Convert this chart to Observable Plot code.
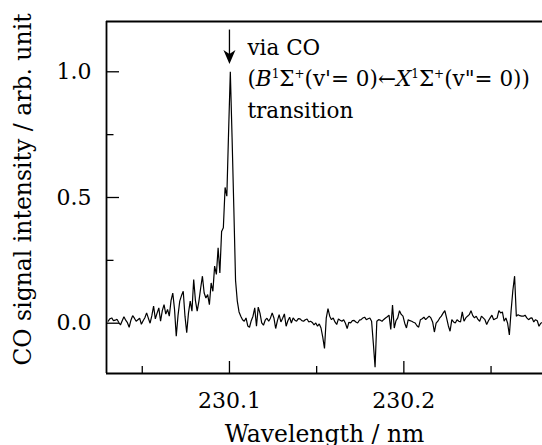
<!DOCTYPE html>
<html><head><meta charset="utf-8">
<script src="https://cdn.jsdelivr.net/npm/d3@7"></script>
<script src="https://cdn.jsdelivr.net/npm/@observablehq/plot@0.6"></script>
<style>
html,body{margin:0;padding:0;background:#fff;overflow:hidden}
#chart svg{font-family:"DejaVu Serif",serif;font-size:22px;background:#fff;color:#000}
</style>
</head><body><div id="chart"></div>
<script>
const wavelength = [
230.0305,230.0315,230.0325,230.0335,230.0345,230.0355,230.0365,230.0375,230.0385,230.0395,
230.0405,230.0415,230.0425,230.0435,230.0445,230.0455,230.0465,230.0475,230.0485,230.0495,
230.0505,230.0515,230.0525,230.0535,230.0545,230.0555,230.0565,230.0575,230.0585,230.0595,
230.0605,230.0615,230.0625,230.0635,230.0645,230.0655,230.0665,230.0675,230.0685,230.0695,
230.0705,230.0715,230.0725,230.0735,230.0745,230.0755,230.0765,230.0775,230.0785,230.0795,
230.0805,230.0815,230.0825,230.0835,230.0845,230.0855,230.0865,230.0875,230.0885,230.0895,
230.0905,230.0915,230.0925,230.0935,230.0945,230.0955,230.0965,230.0975,230.0985,230.0995,
230.1005,230.1015,230.1025,230.1035,230.1045,230.1055,230.1065,230.1075,230.1085,230.1095,
230.1105,230.1115,230.1125,230.1135,230.1145,230.1155,230.1165,230.1175,230.1185,230.1195,
230.1205,230.1215,230.1225,230.1235,230.1245,230.1255,230.1265,230.1275,230.1285,230.1295,
230.1305,230.1315,230.1325,230.1335,230.1345,230.1355,230.1365,230.1375,230.1385,230.1395,
230.1405,230.1415,230.1425,230.1435,230.1445,230.1455,230.1465,230.1475,230.1485,230.1495,
230.1505,230.1515,230.1525,230.1535,230.1545,230.1555,230.1565,230.1575,230.1585,230.1595,
230.1605,230.1615,230.1625,230.1635,230.1645,230.1655,230.1665,230.1675,230.1685,230.1695,
230.1705,230.1715,230.1725,230.1735,230.1745,230.1755,230.1765,230.1775,230.1785,230.1795,
230.1805,230.1815,230.1825,230.1835,230.1845,230.1855,230.1865,230.1875,230.1885,230.1895,
230.1905,230.1915,230.1925,230.1935,230.1945,230.1955,230.1965,230.1975,230.1985,230.1995,
230.2005,230.2015,230.2025,230.2035,230.2045,230.2055,230.2065,230.2075,230.2085,230.2095,
230.2105,230.2115,230.2125,230.2135,230.2145,230.2155,230.2165,230.2175,230.2185,230.2195,
230.2205,230.2215,230.2225,230.2235,230.2245,230.2255,230.2265,230.2275,230.2285,230.2295,
230.2305,230.2315,230.2325,230.2335,230.2345,230.2355,230.2365,230.2375,230.2385,230.2395,
230.2405,230.2415,230.2425,230.2435,230.2445,230.2455,230.2465,230.2475,230.2485,230.2495,
230.2505,230.2515,230.2525,230.2535,230.2545,230.2555,230.2565,230.2575,230.2585,230.2595,
230.2605,230.2615,230.2625,230.2635,230.2645,230.2655,230.2665,230.2675,230.2685,230.2695,
230.2705,230.2715,230.2725,230.2735,230.2745,230.2755,230.2765,230.2775,230.2785,230.2795
];
const intensity = [
0.008,0.018,0.021,0.010,0.012,0.016,0.004,-0.007,0.010,0.026,
0.012,0.002,-0.016,0.012,0.030,0.020,0.008,0.014,0.020,-0.004,
0.010,0.022,0.041,0.020,0.000,0.030,0.068,0.017,0.040,0.061,
0.008,0.050,0.074,0.036,0.055,0.028,0.090,0.120,0.056,-0.052,
0.030,0.088,0.110,0.127,0.028,-0.038,0.040,0.088,0.048,0.174,
0.090,0.048,0.088,0.140,0.187,0.120,0.100,0.114,0.074,0.160,
0.127,0.227,0.194,0.300,0.200,0.365,0.380,0.540,0.505,0.760,
1.000,0.740,0.460,0.170,0.088,0.045,0.028,0.014,0.008,0.021,
-0.011,-0.016,0.010,0.028,0.061,-0.012,0.064,0.040,0.001,-0.008,
0.012,0.020,0.008,0.020,0.041,0.021,-0.021,0.010,0.034,0.005,
0.020,0.037,-0.012,0.010,0.024,0.001,0.021,0.012,0.008,0.018,
0.017,0.010,0.008,0.014,0.017,0.005,0.008,0.003,-0.007,0.001,
-0.012,-0.003,-0.019,-0.055,-0.100,0.020,0.058,0.028,0.014,0.021,
0.005,-0.005,0.017,0.012,0.008,0.014,0.000,-0.021,0.004,0.001,
0.010,0.011,0.005,0.001,0.012,0.014,0.021,0.024,0.014,0.018,
0.021,0.008,-0.080,-0.175,0.008,0.014,0.012,0.008,0.015,0.021,
0.026,0.032,-0.025,0.072,-0.019,0.010,0.021,0.050,0.035,0.028,
0.000,-0.019,0.014,0.010,0.008,0.004,0.001,-0.010,-0.016,0.014,
0.018,0.024,0.014,0.021,0.028,0.021,0.005,-0.035,0.000,0.008,
0.020,0.028,0.040,0.050,0.021,-0.010,-0.032,0.014,0.005,0.001,
0.014,0.008,0.005,0.045,0.008,0.021,0.028,0.034,0.050,0.030,
0.021,0.028,0.015,0.008,0.028,0.021,0.014,-0.005,0.010,0.021,
0.032,0.014,0.018,0.021,0.050,0.041,0.045,0.008,0.021,0.000,
-0.047,0.050,0.130,0.187,0.028,0.034,0.030,0.028,0.028,0.032,
0.021,0.014,0.020,0.021,0.005,0.014,0.010,-0.012,0.000,0.003
];
const xMajorTicks = [230.1, 230.2];
const xMinorTicks = [230.05, 230.15, 230.25];
const yMajorTicks = [0, 0.5, 1.0];
const yMinorTicks = [0.25, 0.75];
const xLabel = "Wavelength / nm";
const yLabel = "CO signal intensity / arb. unit";
const annotationLines = ["via CO", "(B1Σ+(v'= 0)←X1Σ+(v\"= 0))", "transition"];
const peakWavelength = 230.1;
const xDomain = [230.0295, 230.2795];
const yDomain = [-0.2, 1.2];
const arrowTop = 1.166;
const arrowTip = 1.031;

const data = wavelength.map((w, i) => ({w, v: intensity[i]}));
const font = "DejaVu Serif";

const arrowHead = {
  draw(ctx) {
    ctx.moveTo(0, 0);
    ctx.lineTo(-6, -14);
    ctx.lineTo(0, -10);
    ctx.lineTo(6, -14);
    ctx.closePath();
  }
};

const svg = Plot.plot({
  width: 542, height: 445,
  marginTop: 21, marginBottom: 72, marginLeft: 106, marginRight: 0,
  x: {domain: xDomain, label: null},
  y: {domain: yDomain, label: null},
  marks: [
    Plot.axisX({ticks: xMajorTicks, tickSize: 12, dy: -12, text: null, label: null, strokeWidth: 1.3}),
    Plot.axisX({ticks: xMinorTicks, tickSize: 7, dy: -7, text: null, label: null, strokeWidth: 1.3}),
    Plot.axisX({ticks: xMajorTicks, tickSize: 0, tickPadding: 19, tickFormat: d3.format(".1f"), label: null,
      fontSize: 22, fontFamily: font}),
    Plot.axisY({ticks: yMajorTicks, tickSize: 13, dx: 13, text: null, label: null, strokeWidth: 1.3}),
    Plot.axisY({ticks: yMinorTicks, tickSize: 7.5, dx: 7.5, text: null, label: null, strokeWidth: 1.3}),
    Plot.axisY({ticks: yMajorTicks, tickSize: 0, tickPadding: 15, tickFormat: d3.format(".1f"), label: null,
      fontSize: 22, fontFamily: font}),
    Plot.ruleY(yDomain, {stroke: "black", strokeWidth: 1.8}),
    Plot.ruleX([xDomain[0]], {stroke: "black", strokeWidth: 1.8}),
    Plot.line(data, {x: "w", y: "v", stroke: "black", strokeWidth: 1.2, strokeLinejoin: "miter"}),
    Plot.ruleX([peakWavelength], {y1: () => arrowTop, y2: () => arrowTip + 0.03, stroke: "black", strokeWidth: 1.3}),
    Plot.dot([peakWavelength], {x: d => d, y: () => arrowTip, symbol: arrowHead, r: 5, fill: "black", stroke: "none"}),
    Plot.text([annotationLines.join("\n")], {x: () => peakWavelength, frameAnchor: "top", dx: 18, dy: 11,
      textAnchor: "start", lineAnchor: "top", lineHeight: 1.465, fontSize: 21.5, fontFamily: font}),
    Plot.text([yLabel], {frameAnchor: "left", textAnchor: "middle", rotate: -90, dx: -83, dy: -8, fontSize: 23.5, fontFamily: font}),
    Plot.text([xLabel], {frameAnchor: "bottom", textAnchor: "middle", lineAnchor: "top", dy: 52, fontSize: 23.5, fontFamily: font})
  ]
});

// rich formatting for the transition line (italic term symbols, superscripts)
const line2 = Array.from(svg.querySelectorAll("tspan")).find(n => n.textContent === annotationLines[1]);
if (line2) {
  const parts = [["(", ""], ["B", "i"], ["1", "s"], ["Σ", ""], ["+", "s"], ["(v'= 0)←", ""],
                 ["X", "i"], ["1", "s"], ["Σ", ""], ["+", "s"], ["(v\"= 0))", ""]];
  line2.textContent = "";
  let raised = false;
  for (const [txt, kind] of parts) {
    const ts = document.createElementNS("http://www.w3.org/2000/svg", "tspan");
    ts.textContent = txt;
    if (kind === "i") ts.setAttribute("font-style", "italic");
    if (kind === "s") {
      ts.setAttribute("font-size", "12");
      if (!raised) { ts.setAttribute("dy", "-8"); raised = true; }
    } else if (raised) { ts.setAttribute("dy", "8"); raised = false; }
    line2.appendChild(ts);
  }
}
document.getElementById("chart").appendChild(svg);
</script>
</body></html>
